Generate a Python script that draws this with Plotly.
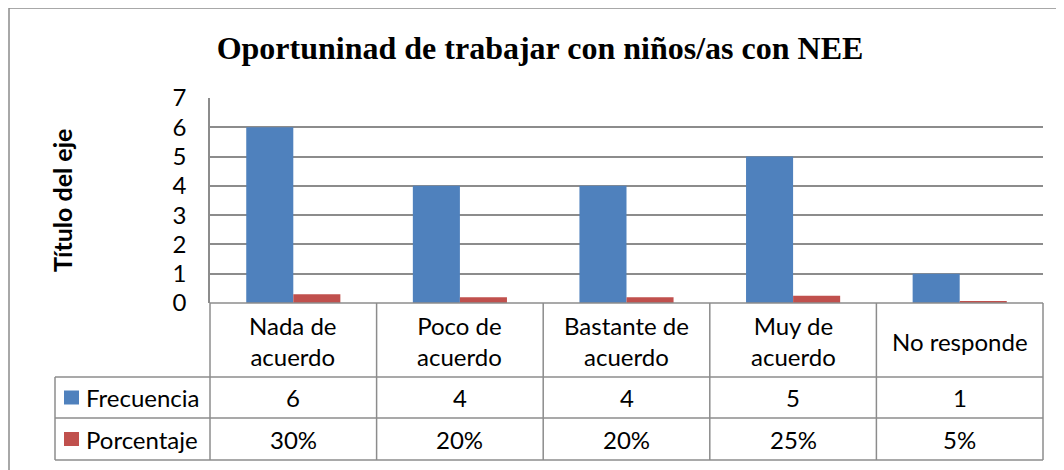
import plotly.graph_objects as go

categories = ["Nada de acuerdo", "Poco de acuerdo", "Bastante de acuerdo", "Muy de acuerdo", "No responde"]
category_labels = ["Nada de<br>acuerdo", "Poco de<br>acuerdo", "Bastante de<br>acuerdo", "Muy de<br>acuerdo", "No responde"]
frecuencia = [6, 4, 4, 5, 1]
porcentaje = [0.30, 0.20, 0.20, 0.25, 0.05]
series_names = ["Frecuencia", "Porcentaje"]
series_colors = ["#4F81BD", "#C0504D"]
title_text = "Oportuninad de trabajar con niños/as con NEE"
y_title = "Título del eje"
y_ticks = [0, 1, 2, 3, 4, 5, 6, 7]

W, H = 1064, 470
FONT = "Lato"
FS = 24
GRID = "#8c8c8c"
OFF = 8  # page body margin compensation

# pixel layout helpers (screen coordinates)
PL, PR, PT, PB = 210, 1043, 98, 303
ROW1, ROW2, ROW3 = 377, 418, 460
TABLE_LEFT = 55

def px(x):
    return (x - OFF) / W

def py(y):
    return 1 - (y - OFF) / H

fig = go.Figure()
fig.add_trace(go.Bar(x=categories, y=frecuencia, name=series_names[0],
                     marker=dict(color=series_colors[0], line=dict(width=0))))
fig.add_trace(go.Bar(x=categories, y=porcentaje, name=series_names[1],
                     marker=dict(color=series_colors[1], line=dict(width=0))))

shapes = []
annotations = []

# outer chart border
shapes.append(dict(type="rect", xref="paper", yref="paper",
                   x0=px(9), x1=px(1090), y0=py(8), y1=py(500),
                   line=dict(color=GRID, width=1.5), fillcolor="rgba(0,0,0,0)", layer="below"))

n = len(categories)
colw = (PR - PL) / n
bounds = [PL + i * colw for i in range(n + 1)]

# table horizontal lines
shapes.append(dict(type="line", xref="paper", yref="paper", x0=px(PL), x1=px(PR), y0=py(PB), y1=py(PB),
                   line=dict(color=GRID, width=1.5)))
for yy in (ROW1, ROW2, ROW3):
    shapes.append(dict(type="line", xref="paper", yref="paper", x0=px(TABLE_LEFT), x1=px(PR), y0=py(yy), y1=py(yy),
                       line=dict(color=GRID, width=1.5)))
# table vertical lines
for b in bounds:
    shapes.append(dict(type="line", xref="paper", yref="paper", x0=px(b), x1=px(b), y0=py(PB), y1=py(ROW3),
                       line=dict(color=GRID, width=1.5)))
shapes.append(dict(type="line", xref="paper", yref="paper", x0=px(TABLE_LEFT), x1=px(TABLE_LEFT),
                   y0=py(ROW1), y1=py(ROW3), line=dict(color=GRID, width=1.5)))

# category header labels
for i, lab in enumerate(category_labels):
    annotations.append(dict(x=categories[i], xref="x", y=py((PB + ROW1) / 2 + 1), yref="paper",
                            text=lab, showarrow=False, font=dict(family=FONT, size=FS, color="black"),
                            xanchor="center", yanchor="middle", align="center"))

# data rows
rows = [[str(v) for v in frecuencia], [f"{round(v * 100)}%" for v in porcentaje]]
row_centers = [(ROW1 + ROW2) / 2, (ROW2 + ROW3) / 2]
for r, (vals, yc) in enumerate(zip(rows, row_centers)):
    for i, v in enumerate(vals):
        annotations.append(dict(x=categories[i], xref="x", y=py(yc), yref="paper", text=v, showarrow=False,
                                font=dict(family=FONT, size=FS, color="black"), xanchor="center", yanchor="middle"))
    # legend key
    shapes.append(dict(type="rect", xref="paper", yref="paper", x0=px(64), x1=px(79),
                       y0=py(yc - 7), y1=py(yc + 7), fillcolor=series_colors[r], line=dict(width=0)))
    annotations.append(dict(x=px(84), xref="paper", y=py(yc), yref="paper", text=series_names[r],
                            showarrow=False, font=dict(family=FONT, size=FS, color="black"),
                            xanchor="left", yanchor="middle"))

# y axis title
annotations.append(dict(x=px(62), xref="paper", y=py(201), yref="paper", text="<b>" + y_title + "</b>",
                        textangle=-90, showarrow=False, font=dict(family=FONT, size=25, color="black"),
                        xanchor="center", yanchor="middle"))

fig.update_layout(
    width=W, height=H,
    margin=dict(l=0, r=0, t=0, b=0, autoexpand=False),
    paper_bgcolor="white", plot_bgcolor="white",
    showlegend=False,
    barmode="group", bargap=0.435, bargroupgap=0,
    title=dict(text="<b>" + title_text + "</b>", x=px(540), xanchor="center", y=py(48), yanchor="middle",
               font=dict(family="Liberation Serif", size=32, color="black")),
    xaxis=dict(domain=[px(PL), px(PR)], showticklabels=False, ticks="", showgrid=False,
               showline=False, zeroline=False, automargin=False),
    yaxis=dict(domain=[py(PB), py(PT)], range=[0, 7], tickvals=y_ticks, ticks="",
               showgrid=True, gridcolor=GRID, gridwidth=1.5, zeroline=False, automargin=False,
               showline=True, linecolor=GRID, linewidth=1.5, ticklabelstandoff=17,
               tickfont=dict(family=FONT, size=FS, color="black")),
    shapes=shapes, annotations=annotations,
)

fig.write_html("out.html")
